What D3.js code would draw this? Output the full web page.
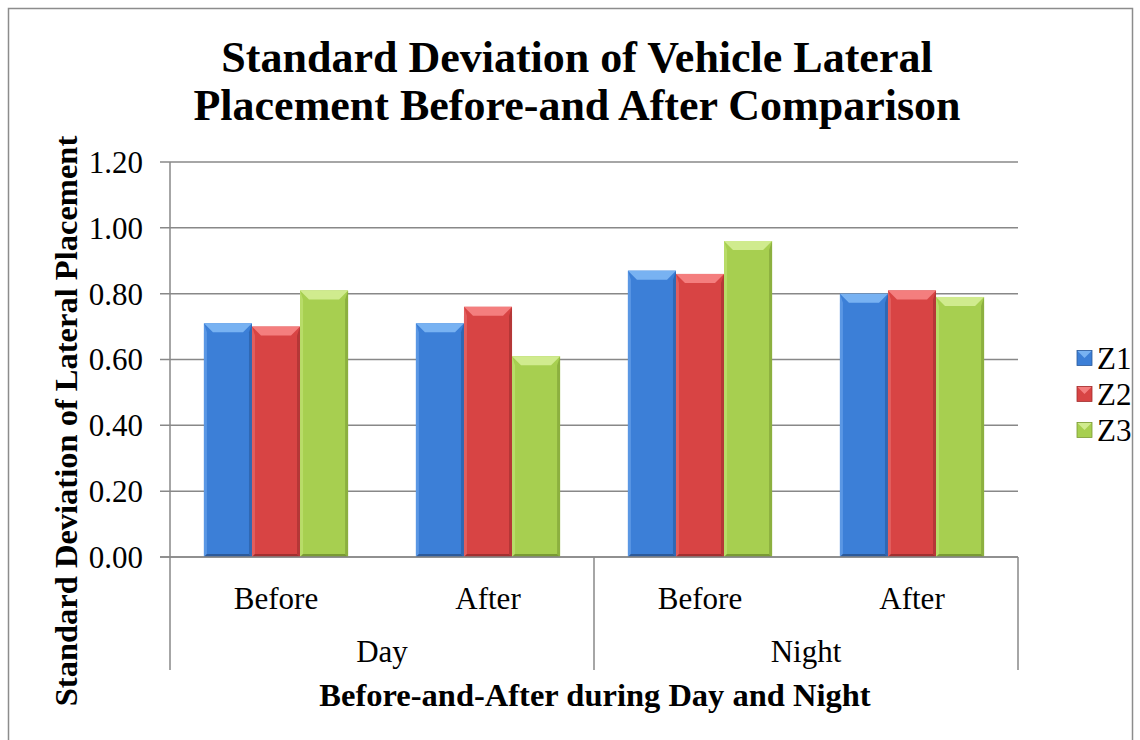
<!DOCTYPE html>
<html>
<head>
<meta charset="utf-8">
<script src="https://cdn.jsdelivr.net/npm/d3@7"></script>
<style>
  html, body { margin: 0; padding: 0; background: #fff; }
  svg { display: block; }
  text { font-family: "Liberation Serif", "Times New Roman", serif; fill: #000; }
</style>
</head>
<body>
<svg id="chart" width="1140" height="740"></svg>
<script>
// Categories (two-level axis: period within time of day)
const periods = ["Before", "After", "Before", "After"];
const timesOfDay = ["Day", "Night"];
const seriesNames = ["Z1", "Z2", "Z3"];
// Standard deviation of lateral placement per series, in category order
const z1Values = [0.71, 0.71, 0.87, 0.80];
const z2Values = [0.70, 0.76, 0.86, 0.81];
const z3Values = [0.81, 0.61, 0.96, 0.79];
const yTicks = [0, 0.2, 0.4, 0.6, 0.8, 1.0, 1.2];

const seriesValues = [z1Values, z2Values, z3Values];
const palette = [
  { main: "#3c7fd7", light: "#78b2f2", left: "#5a97e4", right: "#2f68b4", dark: "#2c5a9a" },
  { main: "#d84444", light: "#f47e7e", left: "#e25e5e", right: "#b53737", dark: "#a22f2f" },
  { main: "#a7cf50", light: "#d0eb8e", left: "#b8dc68", right: "#8cb03f", dark: "#7a9a34" }
];

const svg = d3.select("#chart");
const margin = { left: 170, right: 1018, top: 162, bottom: 557 };
const axisFont = 31;
const axisTitleFont = 32.5;

// Outer chart frame
svg.append("rect")
  .attr("x", 8.5).attr("y", 8.5).attr("width", 1124).attr("height", 800)
  .attr("fill", "none").attr("stroke", "#8c8c8c").attr("stroke-width", 1.5);

const y = d3.scaleLinear().domain([0, 1.2]).range([margin.bottom, margin.top]);
const xCat = d3.scaleBand().domain(d3.range(periods.length))
  .range([margin.left, margin.right]).paddingInner(0.32).paddingOuter(0.16);
const xSer = d3.scaleBand().domain(d3.range(seriesNames.length))
  .range([0, xCat.bandwidth()]);

// Gridlines
svg.append("g").selectAll("line").data(yTicks).join("line")
  .attr("x1", margin.left - 10).attr("x2", margin.right)
  .attr("y1", d => y(d)).attr("y2", d => y(d))
  .attr("stroke", "#888").attr("stroke-width", 1.5);

// Y axis line
svg.append("line")
  .attr("x1", margin.left).attr("x2", margin.left)
  .attr("y1", margin.top).attr("y2", margin.bottom)
  .attr("stroke", "#888").attr("stroke-width", 1.5);

// Y tick labels
svg.append("g").selectAll("text").data(yTicks).join("text")
  .attr("x", 143).attr("y", d => y(d))
  .attr("dy", "0.35em").attr("text-anchor", "end")
  .attr("font-size", axisFont).text(d => d.toFixed(2));

// Bars with a bevelled look
const pts = arr => arr.map(p => p.join(",")).join(" ");
const bars = svg.append("g");
seriesValues.forEach((vals, s) => {
  const c = palette[s];
  vals.forEach((v, i) => {
    const x0 = xCat(i) + xSer(s);
    const w = xSer.bandwidth();
    const x1 = x0 + w;
    const yt = y(v), yb = y(0);
    const b = Math.min(9, (yb - yt) / 2);
    const sb = 3;
    const g = bars.append("g");
    g.append("rect").attr("x", x0).attr("y", yt).attr("width", w).attr("height", yb - yt)
      .attr("fill", c.main);
    // left and right bevels
    g.append("polygon").attr("fill", c.left)
      .attr("points", pts([[x0, yt], [x0 + sb, yt + b], [x0 + sb, yb - sb], [x0, yb]]));
    g.append("polygon").attr("fill", c.right)
      .attr("points", pts([[x1, yt], [x1 - sb, yt + b], [x1 - sb, yb - sb], [x1, yb]]));
    // top bevel
    g.append("polygon").attr("fill", c.light)
      .attr("points", pts([[x0, yt], [x1, yt], [x1 - b, yt + b], [x0 + b, yt + b]]));
    // bottom bevel
    g.append("polygon").attr("fill", c.dark)
      .attr("points", pts([[x0, yb], [x0 + sb, yb - sb], [x1 - sb, yb - sb], [x1, yb]]));
  });
});

// Baseline redrawn on top
svg.append("line")
  .attr("x1", margin.left - 10).attr("x2", margin.right)
  .attr("y1", y(0)).attr("y2", y(0))
  .attr("stroke", "#888").attr("stroke-width", 1.5);

// Category group separators
const sepX = [margin.left, (xCat(1) + xCat.bandwidth() + xCat(2)) / 2, margin.right];
svg.append("g").selectAll("line").data(sepX).join("line")
  .attr("x1", d => d).attr("x2", d => d)
  .attr("y1", y(0)).attr("y2", 670)
  .attr("stroke", "#888").attr("stroke-width", 1.5);

// Category labels
svg.append("g").selectAll("text").data(periods).join("text")
  .attr("x", (d, i) => xCat(i) + xCat.bandwidth() / 2)
  .attr("y", 598).attr("dy", "0.35em").attr("text-anchor", "middle")
  .attr("font-size", axisFont).text(d => d);

svg.append("g").selectAll("text").data(timesOfDay).join("text")
  .attr("x", (d, i) => (sepX[i] + sepX[i + 1]) / 2)
  .attr("y", 651).attr("dy", "0.35em").attr("text-anchor", "middle")
  .attr("font-size", axisFont).text(d => d);

// Axis titles
svg.append("text").attr("x", 595).attr("y", 695).attr("dy", "0.35em")
  .attr("text-anchor", "middle").attr("font-size", axisTitleFont).attr("font-weight", "bold")
  .text("Before-and-After during Day and Night");

svg.append("text")
  .attr("transform", "translate(66,421) rotate(-90)")
  .attr("dy", "0.35em").attr("text-anchor", "middle")
  .attr("font-size", axisTitleFont).attr("font-weight", "bold")
  .text("Standard Deviation of Lateral Placement");

// Title
const title = svg.append("text").attr("text-anchor", "middle")
  .attr("font-size", 44).attr("font-weight", "bold");
title.append("tspan").attr("x", 577).attr("y", 72).text("Standard Deviation of Vehicle Lateral");
title.append("tspan").attr("x", 577).attr("y", 120).text("Placement Before-and After Comparison");

// Legend
const legend = svg.append("g");
seriesNames.forEach((name, s) => {
  const c = palette[s];
  const ly = 358 + s * 36;
  const lx = 1077, sz = 15;
  legend.append("rect").attr("x", lx).attr("y", ly - sz / 2).attr("width", sz).attr("height", sz)
    .attr("fill", c.main);
  legend.append("polygon").attr("fill", c.light)
    .attr("points", pts([[lx, ly - sz / 2], [lx + sz, ly - sz / 2], [lx + sz / 2, ly]]));
  legend.append("rect").attr("x", lx).attr("y", ly - sz / 2).attr("width", sz).attr("height", sz)
    .attr("fill", "none").attr("stroke", c.dark).attr("stroke-width", 0.8);
  legend.append("text").attr("x", 1097).attr("y", ly).attr("dy", "0.35em")
    .attr("font-size", axisFont).text(name);
});
</script>
</body>
</html>
